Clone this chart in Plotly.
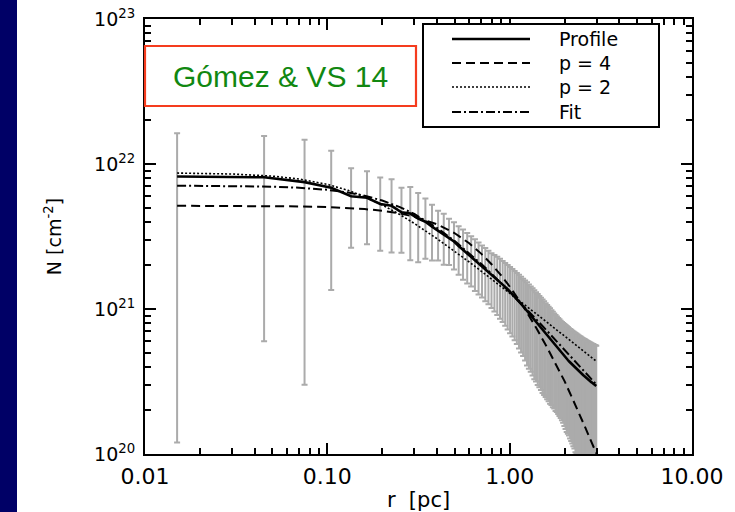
import plotly.graph_objects as go

# ---------------------------------------------------------------------------
# Radial column-density profile of the filament (bins in pc, N in 1e21 cm^-2)
# ---------------------------------------------------------------------------
r_pc = [
    0.015, 0.045, 0.075, 0.105, 0.135, 0.165, 0.195, 0.225, 0.255, 0.285,
    0.315, 0.345, 0.375, 0.405, 0.435, 0.465, 0.495, 0.525, 0.555, 0.585,
    0.615, 0.645, 0.675, 0.705, 0.735, 0.765, 0.795, 0.825, 0.855, 0.885,
    0.915, 0.945, 0.975, 1.005, 1.035, 1.065, 1.095, 1.125, 1.155, 1.185,
    1.215, 1.245, 1.275, 1.305, 1.335, 1.365, 1.395, 1.425, 1.455, 1.485,
    1.515, 1.545, 1.575, 1.605, 1.635, 1.665, 1.695, 1.725, 1.755, 1.785,
    1.815, 1.845, 1.875, 1.905, 1.935, 1.965, 1.995, 2.025, 2.055, 2.085,
    2.115, 2.145, 2.175, 2.205, 2.235, 2.265, 2.295, 2.325, 2.355, 2.385,
    2.415, 2.445, 2.475, 2.505, 2.535, 2.565, 2.595, 2.625, 2.655, 2.685,
    2.715, 2.745, 2.775, 2.805, 2.835, 2.865, 2.895, 2.925, 2.955, 2.985,
]

n_profile = [
    8.20, 8.10, 7.50, 6.85, 6.00, 5.85, 5.30, 5.15, 4.65, 4.55,
    4.20, 4.00, 3.70, 3.46, 3.28, 3.10, 2.92, 2.72, 2.56, 2.42,
    2.30, 2.18, 2.07, 1.97, 1.88, 1.80, 1.72, 1.66, 1.60, 1.538,
    1.479, 1.422, 1.368, 1.316, 1.267, 1.219, 1.173, 1.129, 1.086, 1.045,
    1.006, 0.967, 0.932, 0.899, 0.868, 0.838, 0.811, 0.784, 0.759, 0.736,
    0.713, 0.692, 0.672, 0.652, 0.634, 0.616, 0.599, 0.583, 0.568, 0.554,
    0.541, 0.528, 0.516, 0.504, 0.493, 0.483, 0.472, 0.463, 0.453, 0.445,
    0.436, 0.428, 0.421, 0.413, 0.406, 0.400, 0.393, 0.387, 0.381, 0.375,
    0.370, 0.364, 0.359, 0.354, 0.349, 0.345, 0.340, 0.336, 0.332, 0.328,
    0.324, 0.320, 0.317, 0.313, 0.310, 0.307, 0.304, 0.300, 0.297, 0.294,
]

n_sigma = [
    8.08, 7.50, 7.20, 5.50, 3.36, 3.05, 2.78, 2.70, 2.21, 2.38,
    2.10, 1.78, 1.54, 1.30, 1.26, 1.09, 1.05, 1.00, 0.97, 0.92,
    0.87, 0.85, 0.81, 0.77, 0.75, 0.72, 0.705, 0.70, 0.69, 0.68,
    0.665, 0.655, 0.645, 0.635, 0.62, 0.61, 0.60, 0.595, 0.585, 0.57,
    0.565, 0.56, 0.545, 0.53, 0.52, 0.51, 0.495, 0.485, 0.47, 0.46,
    0.45, 0.437, 0.425, 0.413, 0.403, 0.394, 0.381, 0.373, 0.362, 0.356,
    0.346, 0.339, 0.333, 0.327, 0.322, 0.319, 0.316, 0.314, 0.311, 0.307,
    0.302, 0.300, 0.298, 0.295, 0.293, 0.291, 0.290, 0.287, 0.285, 0.283,
    0.282, 0.282, 0.280, 0.278, 0.277, 0.275, 0.275, 0.274, 0.272, 0.272,
    0.271, 0.270, 0.269, 0.268, 0.267, 0.267, 0.266, 0.265, 0.265, 0.265,
]

# ---------------------------------------------------------------------------
# Plummer-like model curves (same radii for all three)
# ---------------------------------------------------------------------------
r_model = [
    0.015, 0.03, 0.05, 0.07, 0.1, 0.13, 0.16, 0.2, 0.25, 0.3,
    0.4, 0.5, 0.6, 0.7, 0.8, 0.9, 1.0, 1.2, 1.4, 1.6,
    1.8, 2.0, 2.2, 2.4, 2.6, 2.8, 3.0,
]
n_p4 = [
    5.15, 5.14, 5.12, 5.10, 5.05, 4.98, 4.89, 4.76, 4.56, 4.33,
    3.84, 3.33, 2.84, 2.40, 2.02, 1.70, 1.43, 1.02, 0.739, 0.546,
    0.413, 0.318, 0.244, 0.192, 0.152, 0.122, 0.100,
]
n_p2 = [
    8.66, 8.53, 8.25, 7.88, 7.24, 6.58, 5.95, 5.22, 4.48, 3.89,
    3.05, 2.50, 2.11, 1.82, 1.60, 1.43, 1.29, 1.08, 0.927, 0.812,
    0.722, 0.651, 0.592, 0.543, 0.501, 0.465, 0.435,
]
n_fit = [
    7.09, 7.05, 6.98, 6.86, 6.64, 6.36, 6.04, 5.60, 5.04, 4.52,
    3.62, 2.94, 2.43, 2.04, 1.74, 1.50, 1.31, 1.04, 0.848, 0.709,
    0.605, 0.524, 0.459, 0.407, 0.365, 0.330, 0.300,
]

legend_labels = ["Profile", "p = 4", "p = 2", "Fit"]
x_ticks = [0.01, 0.1, 1, 10]
x_ticktext = ["0.01", "0.10", "1.00", "10.00"]
y_ticks = [1e20, 1e21, 1e22, 1e23]
y_ticktext = ["10<sup>20</sup>", "10<sup>21</sup>", "10<sup>22</sup>", "10<sup>23</sup>"]

UNIT = 1e21  # values above are in units of 1e21 cm^-2

def cgs(values):
    return [v * UNIT for v in values]

# ---------------------------------------------------------------------------
# Figure geometry (pixels) and helpers to place decorations in paper units
# ---------------------------------------------------------------------------
W, H = 735, 512
ML, MR, MT, MB = 145, 43, 19, 58
PW, PH = W - ML - MR, H - MT - MB

def px(x):
    return (x - ML) / PW

def py(y):
    return (H - MB - y) / PH

AXFONT = "DejaVu Sans, Verdana, sans-serif"
BOXFONT = "Liberation Sans, Arial, Helvetica, sans-serif"
GREY = "#ababab"

styles = {
    "Profile": dict(color="black", width=2.6, dash="solid"),
    "p = 4": dict(color="black", width=2.0, dash="9px,5px"),
    "p = 2": dict(color="black", width=1.6, dash="2px,2px"),
    "Fit": dict(color="black", width=2.0, dash="9px,3px,2px,3px"),
}

fig = go.Figure()

# dispersion of each radial bin
fig.add_trace(go.Scatter(
    x=r_pc, y=cgs(n_profile), mode="markers",
    marker=dict(size=2, color="rgba(0,0,0,0)"),
    error_y=dict(type="data", array=cgs(n_sigma), symmetric=True,
                 color=GREY, thickness=2, width=3),
    hoverinfo="skip", showlegend=False,
))

fig.add_trace(go.Scatter(x=r_model, y=cgs(n_p4), mode="lines",
                         line=styles["p = 4"], showlegend=False))
fig.add_trace(go.Scatter(x=r_model, y=cgs(n_p2), mode="lines",
                         line=styles["p = 2"], showlegend=False))
fig.add_trace(go.Scatter(x=r_model, y=cgs(n_fit), mode="lines",
                         line=styles["Fit"], showlegend=False))
fig.add_trace(go.Scatter(x=r_pc, y=cgs(n_profile), mode="lines",
                         line=styles["Profile"], showlegend=False))

x_minor = [m * d for d in (0.01, 0.1, 1) for m in range(2, 10)]
y_minor = [m * d for d in (1e20, 1e21, 1e22) for m in range(2, 10)]

axis_common = dict(
    showline=True, linecolor="black", linewidth=2, mirror="allticks",
    ticks="inside", ticklen=11, tickwidth=2, tickcolor="black",
    showgrid=False, zeroline=False, automargin=False,
)

fig.update_xaxes(
    type="log", range=[-2, 1],
    tickmode="array", tickvals=x_ticks, ticktext=x_ticktext,
    tickfont=dict(family=AXFONT, size=22, color="black"),
    minor=dict(tickmode="array", tickvals=x_minor, ticks="inside",
               ticklen=6, tickwidth=1.5, tickcolor="black", showgrid=False),
    ticklabelstandoff=2,
    title=dict(text="r\u00a0 [pc]", font=dict(family=AXFONT, size=21, color="black"),
               standoff=15),
    **axis_common,
)
fig.update_yaxes(
    type="log", range=[20, 23],
    tickmode="array", tickvals=y_ticks, ticktext=y_ticktext,
    tickfont=dict(family=AXFONT, size=19, color="black"),
    minor=dict(tickmode="array", tickvals=y_minor, ticks="inside",
               ticklen=6, tickwidth=1.5, tickcolor="black", showgrid=False),
    ticklabelstandoff=4,
    title=dict(text="N [cm<sup>-2</sup>]", font=dict(family=AXFONT, size=19, color="black"),
               standoff=27),
    **axis_common,
)

shapes = [
    # navy strip along the left edge of the slide
    dict(type="rect", xref="paper", yref="paper", x0=px(0), x1=px(17),
         y0=py(H + 5), y1=py(-5), fillcolor="#000066", line=dict(width=0),
         layer="below"),
    # citation box
    dict(type="rect", xref="paper", yref="paper", x0=px(145), x1=px(416),
         y0=py(106), y1=py(46), fillcolor="white",
         line=dict(color="#f53c1e", width=2.2), layer="above"),
    # legend frame
    dict(type="rect", xref="paper", yref="paper", x0=px(423), x1=px(659),
         y0=py(127), y1=py(24), fillcolor="white",
         line=dict(color="black", width=2), layer="above"),
]
annotations = [
    dict(text="Gómez & VS 14", xref="paper", yref="paper",
         x=px(280), y=py(76), xanchor="center", yanchor="middle",
         showarrow=False, font=dict(family=BOXFONT, size=30, color="#118811")),
]

legend_rows = [39, 63, 87, 112]
for label, row in zip(legend_labels, legend_rows):
    st = styles[label]
    shapes.append(dict(type="line", xref="paper", yref="paper",
                       x0=px(452), x1=px(530), y0=py(row), y1=py(row),
                       line=dict(color=st["color"], width=st["width"], dash=st["dash"]),
                       layer="above"))
    annotations.append(dict(text=label, xref="paper", yref="paper",
                            x=px(557), y=py(row), xanchor="left", yanchor="middle",
                            showarrow=False,
                            font=dict(family=AXFONT, size=19, color="black")))

fig.update_layout(
    width=W, height=H,
    margin=dict(l=ML, r=MR, t=MT, b=MB),
    paper_bgcolor="white", plot_bgcolor="white",
    shapes=shapes, annotations=annotations,
    showlegend=False,
)

fig.write_html("out.html")
